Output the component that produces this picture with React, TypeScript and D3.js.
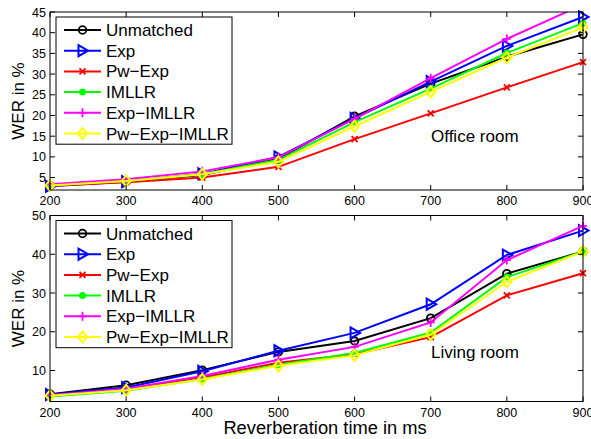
import React from "react";
import * as d3 from "d3";

const times = [200, 300, 400, 500, 600, 700, 800, 900];

// Office room WER (%)
const officeUnmatched = [3.1, 4.1, 5.6, 9.5, 19.8, 27.7, 34.2, 39.6];
const officeExp = [2.9, 4.0, 5.9, 10.0, 19.3, 28.2, 36.8, 43.8];
const officePwExp = [3.0, 3.9, 5.0, 7.6, 14.3, 20.5, 26.8, 32.9];
const officeImllr = [3.2, 4.2, 5.8, 9.3, 18.4, 26.5, 35.1, 42.3];
const officeExpImllr = [3.4, 4.6, 6.5, 9.9, 19.2, 29.0, 38.5, 46.8];
const officePwExpImllr = [3.1, 4.2, 5.8, 8.8, 17.4, 25.7, 34.0, 41.3];

// Living room WER (%)
const livingUnmatched = [3.9, 6.2, 10.1, 14.8, 17.6, 23.5, 35.0, 40.7];
const livingExp = [3.8, 5.6, 9.8, 15.1, 19.7, 27.1, 39.8, 46.1];
const livingPwExp = [3.6, 5.0, 8.2, 12.0, 14.2, 18.6, 29.4, 35.1];
const livingImllr = [3.3, 4.8, 7.8, 11.5, 14.5, 19.8, 34.1, 40.7];
const livingExpImllr = [3.6, 5.3, 8.6, 12.8, 16.1, 22.4, 38.5, 47.3];
const livingPwExpImllr = [3.5, 4.9, 7.7, 11.2, 13.9, 19.3, 32.9, 40.7];

const seriesNames = ["Unmatched", "Exp", "Pw\u2212Exp", "IMLLR", "Exp\u2212IMLLR", "Pw\u2212Exp\u2212IMLLR"];
const seriesColors = ["#000000", "#0000ff", "#ff0000", "#00ff00", "#ff00ff", "#ffff00"];
const seriesMarkers = ["circle", "triangle", "x", "dot", "plus", "diamond"];

const xTicks = [200, 300, 400, 500, 600, 700, 800, 900];
const officeTicks = [5, 10, 15, 20, 25, 30, 35, 40, 45];
const livingTicks = [10, 20, 30, 40, 50];

const FONT = "Liberation Sans, Arial, Helvetica, sans-serif";

function Marker({ type, x, y, color }: { type: string; x: number; y: number; color: string }) {
  const sw = 1.8;
  switch (type) {
    case "circle":
      return <circle cx={x} cy={y} r={3.8} fill="none" stroke={color} strokeWidth={sw} />;
    case "triangle":
      return (
        <polygon
          points={`${x - 4},${y - 5.5} ${x + 5.5},${y} ${x - 4},${y + 5.5}`}
          fill="none"
          stroke={color}
          strokeWidth={2}
        />
      );
    case "x":
      return (
        <path
          d={`M${x - 3},${y - 3}L${x + 3},${y + 3}M${x - 3},${y + 3}L${x + 3},${y - 3}`}
          stroke={color}
          strokeWidth={sw}
        />
      );
    case "dot":
      return <circle cx={x} cy={y} r={3.5} fill={color} />;
    case "plus":
      return (
        <path d={`M${x - 4},${y}L${x + 4},${y}M${x},${y - 4.5}L${x},${y + 4.5}`} stroke={color} strokeWidth={sw} />
      );
    case "diamond":
      return (
        <polygon
          points={`${x},${y - 5.5} ${x + 4.5},${y} ${x},${y + 5.5} ${x - 4.5},${y}`}
          fill="none"
          stroke={color}
          strokeWidth={2}
        />
      );
    default:
      return null;
  }
}

function Panel({
  id,
  top,
  bottom,
  yDomain,
  yTicks,
  data,
  label,
  labelY,
}: {
  id: string;
  top: number;
  bottom: number;
  yDomain: [number, number];
  yTicks: number[];
  data: number[][];
  label: string;
  labelY: number;
}) {
  const left = 50;
  const right = 583;
  const x = d3.scaleLinear().domain([200, 900]).range([left, right]);
  const y = d3.scaleLinear().domain(yDomain).range([bottom, top]);
  const line = d3
    .line<number>()
    .x((_, i) => x(times[i]))
    .y((d) => y(d));
  const tk = 5;

  const legendTop = top + 5;
  const rowH = 20.7;

  return (
    <g>
      <defs>
        <clipPath id={id}>
          <rect x={0} y={top} width={591} height={bottom - top + 10} />
        </clipPath>
      </defs>
      <rect x={left} y={top} width={right - left} height={bottom - top} fill="#fff" />

      {/* series */}
      {data.map((vals, s) => (
        <g key={s}>
          <path
            d={line(vals) ?? ""}
            fill="none"
            stroke={seriesColors[s]}
            strokeWidth={2}
            clipPath={`url(#${id})`}
          />
          {vals.map((v, i) =>
            v <= yDomain[1] ? (
              <Marker key={i} type={seriesMarkers[s]} x={x(times[i])} y={y(v)} color={seriesColors[s]} />
            ) : null
          )}
        </g>
      ))}

      {/* box + ticks */}
      <rect x={left} y={top} width={right - left} height={bottom - top} fill="none" stroke="#000" strokeWidth={1} />
      {xTicks.map((t) => (
        <g key={"x" + t}>
          <line x1={x(t)} x2={x(t)} y1={bottom} y2={bottom - tk} stroke="#000" />
          <line x1={x(t)} x2={x(t)} y1={top} y2={top + tk} stroke="#000" />
          <text x={x(t)} y={bottom + 15} textAnchor="middle" fontSize={12.5} fontFamily={FONT}>
            {t}
          </text>
        </g>
      ))}
      {yTicks.map((t) => (
        <g key={"y" + t}>
          <line x1={left} x2={left + tk} y1={y(t)} y2={y(t)} stroke="#000" />
          <line x1={right} x2={right - tk} y1={y(t)} y2={y(t)} stroke="#000" />
          <text x={left - 4} y={y(t) + 4.5} textAnchor="end" fontSize={12.5} fontFamily={FONT}>
            {t}
          </text>
        </g>
      ))}

      <text
        transform={`translate(24,${(top + bottom) / 2}) rotate(-90)`}
        textAnchor="middle"
        fontSize={17}
        fontFamily={FONT}
      >
        WER in %
      </text>

      <text x={431} y={labelY} fontSize={17} fontFamily={FONT}>
        {label}
      </text>

      {/* legend */}
      <rect x={56} y={legendTop} width={176} height={rowH * 6 + 3} fill="#fff" stroke="#000" strokeWidth={1} />
      {seriesNames.map((n, s) => {
        const ry = legendTop + 13 + s * rowH;
        return (
          <g key={n}>
            <line x1={64} x2={101} y1={ry} y2={ry} stroke={seriesColors[s]} strokeWidth={2} />
            <Marker type={seriesMarkers[s]} x={82.5} y={ry} color={seriesColors[s]} />
            <text x={106} y={ry + 6} fontSize={17} fontFamily={FONT}>
              {n}
            </text>
          </g>
        );
      })}
    </g>
  );
}

export default function App() {
  const office = [officeUnmatched, officeExp, officePwExp, officeImllr, officeExpImllr, officePwExpImllr];
  const living = [livingUnmatched, livingExp, livingPwExp, livingImllr, livingExpImllr, livingPwExpImllr];
  return (
    <div style={{ position: "absolute", left: 0, top: 0 }}>
      <svg width={591} height={439} style={{ display: "block", background: "#fff" }}>
        <Panel
          id="clipOffice"
          top={12}
          bottom={190}
          yDomain={[2, 45]}
          yTicks={officeTicks}
          data={office}
          label="Office room"
          labelY={142}
        />
        <Panel
          id="clipLiving"
          top={215.5}
          bottom={401.5}
          yDomain={[2, 50]}
          yTicks={livingTicks}
          data={living}
          label="Living room"
          labelY={358}
        />
        <text x={325} y={434} textAnchor="middle" fontSize={18.3} fontFamily={FONT}>
          Reverberation time in ms
        </text>
      </svg>
    </div>
  );
}
